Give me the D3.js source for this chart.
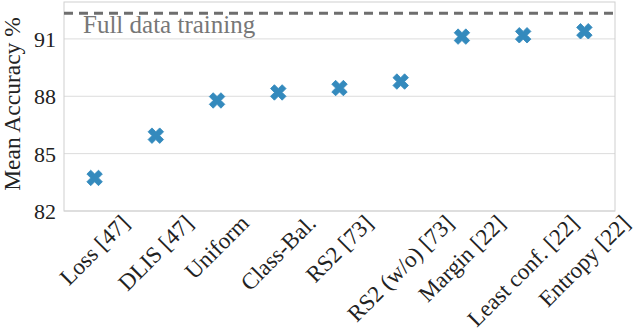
<!DOCTYPE html>
<html>
<head>
<meta charset="utf-8">
<script src="https://cdn.jsdelivr.net/npm/d3@7"></script>
<style>
  body { margin: 0; background: #fff; }
  text { font-family: "Liberation Serif", "DejaVu Serif", serif; }
</style>
</head>
<body>
<svg id="chart" width="640" height="331"></svg>
<script>
// data
var methods = ['Loss [47]', 'DLIS [47]', 'Uniform', 'Class-Bal.', 'RS2 [73]',
    'RS2 (w/o) [73]', 'Margin [22]', 'Least conf. [22]', 'Entropy [22]'];
var accuracy = [83.73, 85.94, 87.78, 88.2, 88.43, 88.77, 91.12, 91.19, 91.4];
var fullData = 92.34;
var yTicks = [82, 85, 88, 91];

var margin = { left: 64, top: 2, right: 25, bottom: 120 },
    width = 640 - margin.left - margin.right,
    height = 331 - margin.top - margin.bottom;

var svg = d3.select('#chart');
var g = svg.append('g')
    .attr('transform', 'translate(' + margin.left + ',' + margin.top + ')');

var x = d3.scalePoint().domain(methods).range([0, width]).padding(0.5);
var y = d3.scaleLinear().domain([82, 92.93]).range([height, 0]);

// grid
g.selectAll('.grid').data(yTicks).enter().append('line')
    .attr('x1', 0).attr('x2', width)
    .attr('y1', function (d) { return y(d); })
    .attr('y2', function (d) { return y(d); })
    .attr('stroke', '#dcdcdc').attr('stroke-width', 1);

// frame
g.append('rect').attr('x', 0).attr('y', 0)
    .attr('width', width).attr('height', height)
    .attr('fill', 'none').attr('stroke', '#cfcfcf').attr('stroke-width', 1);

// y axis
var yAxis = g.append('g').call(d3.axisLeft(y).tickValues(yTicks).tickSize(0).tickPadding(8));
yAxis.select('.domain').remove();
yAxis.selectAll('text')
    .attr('font-size', 22).attr('fill', '#222')
    .style('font-family', '"Liberation Serif", serif')
    .attr('dy', '0.34em');

svg.append('text')
    .attr('transform', 'translate(19.5,' + (margin.top + 102) + ') rotate(-90)')
    .attr('text-anchor', 'middle')
    .attr('font-size', 23.5).attr('fill', '#222')
    .text('Mean Accuracy %');

// full data line
g.append('line')
    .attr('x1', 0).attr('x2', width)
    .attr('y1', y(fullData)).attr('y2', y(fullData))
    .attr('stroke', '#6e6e6e').attr('stroke-width', 3)
    .attr('stroke-dasharray', '9,6');
g.append('text')
    .attr('x', 19).attr('y', y(fullData) + 20)
    .attr('font-size', 25).attr('fill', '#777')
    .text('Full data training');

// x labels rotated 45, bbox centred on tick
g.selectAll('.xl').data(methods).enter().append('text')
    .attr('class', 'xl')
    .attr('font-size', 23).attr('fill', '#222')
    .attr('text-anchor', 'middle')
    .attr('dominant-baseline', 'central')
    .text(function (d) { return d; })
    .each(function (d) {
        var w = this.getComputedTextLength();
        var h = 15;
        var bh = (w + h) * Math.SQRT1_2;
        var cx = x(d), cy = height + 3 + bh / 2;
        d3.select(this).attr('transform', 'translate(' + cx + ',' + cy + ') rotate(-45)');
    });

// markers (filled X)
var xMark = d3.symbol().type(d3.symbolCross).size(150);
g.selectAll('.pt').data(methods).enter().append('path')
    .attr('d', xMark)
    .attr('transform', function (d, i) {
        return 'translate(' + x(d) + ',' + y(accuracy[i]) + ') rotate(45)';
    })
    .attr('fill', '#348ABD')
    .attr('stroke', '#348ABD').attr('stroke-width', 0.8);
</script>
</body>
</html>
